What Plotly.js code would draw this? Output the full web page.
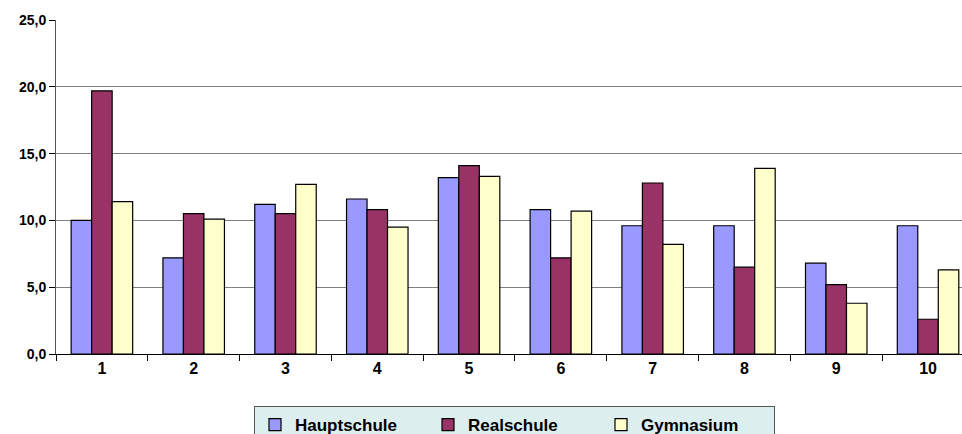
<!DOCTYPE html>
<html>
<head>
<meta charset="utf-8">
<script src="https://cdn.plot.ly/plotly-3.0.1.min.js"></script>
<style>html,body{margin:0;padding:0;background:#fff;}#chart{width:962px;height:434px;}</style>
</head>
<body>
<div id="chart"></div>
<script>
const categories = ['1','2','3','4','5','6','7','8','9','10'];
const hauptschule = [10.0, 7.2, 11.2, 11.6, 13.2, 10.8, 9.6, 9.6, 6.8, 9.6];
const realschule  = [19.7, 10.5, 10.5, 10.8, 14.1, 7.2, 12.8, 6.5, 5.2, 2.6];
const gymnasium   = [11.4, 10.1, 12.7, 9.5, 13.3, 10.7, 8.2, 13.9, 3.8, 6.3];
const seriesNames = ['Hauptschule', 'Realschule', 'Gymnasium'];
const seriesColors = ['#9999FF', '#993366', '#FFFFCC'];
const allValues = [hauptschule, realschule, gymnasium];

const traces = allValues.map((vals, i) => ({
  type: 'bar',
  x: categories,
  y: vals,
  name: seriesNames[i],
  marker: {color: seriesColors[i], line: {color: '#000000', width: 1.2}},
  hoverinfo: 'x+y+name'
}));

const font = {family: '"Liberation Sans", Arial, sans-serif', color: '#000000'};

const layout = {
  width: 962,
  height: 434,
  margin: {l: 56, r: 0, t: 20, b: 80},
  paper_bgcolor: '#FFFFFF',
  plot_bgcolor: '#FFFFFF',
  separators: ', ',
  barmode: 'group',
  bargap: 0.33,
  bargroupgap: 0,
  font: font,
  xaxis: {
    type: 'category',
    range: [-0.5, 9.37],
    showline: true,
    linecolor: '#000000',
    linewidth: 1,
    ticks: 'outside',
    tickson: 'boundaries',
    ticklen: 6,
    tickcolor: '#000000',
    showgrid: false,
    zeroline: false,
    tickfont: {family: font.family, size: 16, color: '#000000', weight: 'bold'}
  },
  yaxis: {
    range: [0, 25],
    dtick: 5,
    tick0: 0,
    tickformat: '.1f',
    showline: true,
    linecolor: '#555555',
    linewidth: 1,
    ticks: 'outside',
    ticklen: 6,
    tickcolor: '#000000',
    showgrid: true,
    gridcolor: '#808080',
    gridwidth: 1,
    zeroline: false,
    tickfont: {family: font.family, size: 14, color: '#000000', weight: 'bold'}
  },
  showlegend: true,
  legend: {
    orientation: 'h',
    xref: 'container',
    yref: 'container',
    x: 254/962,
    y: 1 - 406/434,
    xanchor: 'left',
    yanchor: 'top',
    bgcolor: '#DDEEEE',
    bordercolor: '#555555',
    borderwidth: 1,
    entrywidth: 128,
    itemwidth: 30,
    itemclick: false,
    font: {family: font.family, size: 17, color: '#000000', weight: 'bold'},
    traceorder: 'normal'
  }
};

Plotly.newPlot('chart', traces, layout, {displayModeBar: false, staticPlot: true});
</script>
</body>
</html>
